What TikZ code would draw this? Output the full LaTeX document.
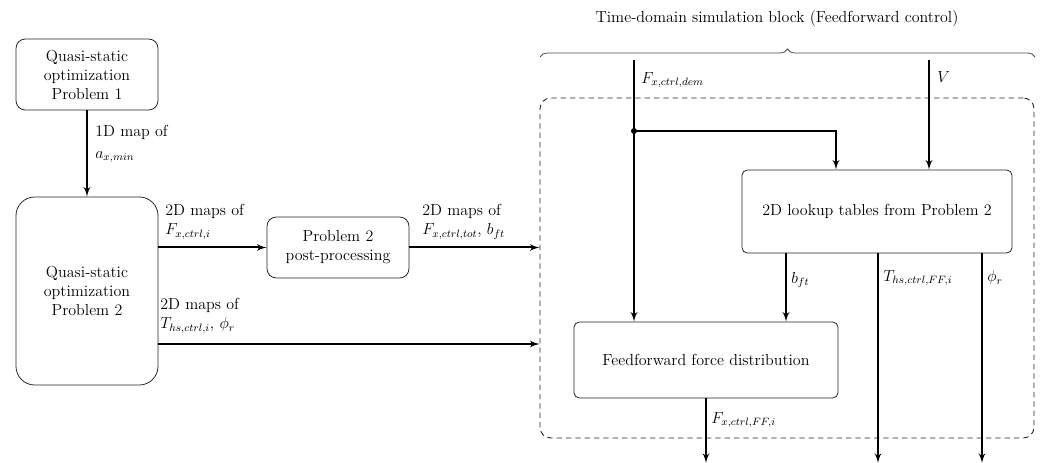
\documentclass[tikz,border=0pt]{standalone}
\usepackage{amsmath}
\usepackage{tikz}
\usetikzlibrary{arrows,decorations.pathreplacing}

\begin{document}
\begin{tikzpicture}[x=0.75pt,y=-0.75pt,font=\fontsize{12}{14.25}\selectfont]
      \tikzset { block/.style = { shape=rectangle,draw=black!85,line width=0.6pt,rounded corners=7pt,align=center,inner sep=2pt } }
      \tikzset { edge/.style = { ->,> = latex',line width=1.5pt } }
      \tikzset { lbl/.style = { anchor=west,align=left,inner sep=0pt } }

      \useasboundingbox (0,0) rectangle (1040,463);

      % boxes
      \node[block,minimum width=106.5pt,minimum height=53.25pt] (prob1) at (87,74.5) {Quasi-static\\optimization\\Problem 1};
      \node[block,minimum width=106.5pt,minimum height=141pt,rounded corners=14pt] (prob2) at (87,291) {Quasi-static\\optimization\\Problem 2};
      \node[block,minimum width=106.5pt,minimum height=45.75pt] (post) at (338,247.5) {Problem 2\\post-processing};
      \node[block,minimum width=202.5pt,minimum height=62.25pt,rounded corners=4pt] (lookup) at (877,211.5) {2D lookup tables from Problem 2};
      \node[block,minimum width=198pt,minimum height=57pt,rounded corners=4pt] (ffdist) at (706,360) {Feedforward force distribution};
      \node[draw=black!85,dash pattern=on 4pt off 3pt,line width=0.7pt,rounded corners=8pt,minimum width=370.5pt,minimum height=255pt] (simblock) at (787,268) {};

      % brace and title
      \coordinate (brL) at (540,57);
      \coordinate (brR) at (1035,57);
      \draw[black!70,line width=0.6pt,decorate,decoration={brace,amplitude=6pt}] (brL) -- (brR);
      \node (title) at (777,19) {Time-domain simulation block (Feedforward control)};

      % inputs and outputs
      \coordinate (fdem) at (634,60);
      \coordinate (vin) at (929,60);
      \coordinate (split) at (634,131);
      \coordinate (p2out) at (158,344);
      \coordinate (ffout) at (706,463);
      \coordinate (thsout) at (878,463);
      \coordinate (phiout) at (982,463);

      \draw[edge] (prob1) to (prob2);
      \draw[edge] (post.west -| prob2.east) to (post.west);
      \draw[edge] (post.east) to (post.east -| simblock.west);
      \draw[edge] (p2out) to (p2out -| simblock.west);
      \draw[edge] (fdem) to (fdem |- ffdist.north);
      \draw[edge] (split) -| (836,131) to (lookup.north -| 836,0);
      \fill (split) circle (3);
      \draw[edge] (vin) to (vin |- lookup.north);
      \draw[edge] (lookup.south -| 786,0) to (ffdist.north -| 786,0);
      \draw[edge] (lookup.south -| thsout) to (thsout);
      \draw[edge] (lookup.south -| phiout) to (phiout);
      \draw[edge] (ffdist.south) to (ffout);

      % labels
      \node[lbl] (l1) at (95,144) {1D map of\\[2pt]$a_{x,min}$};
      \node[lbl] (l2) at (165,222) {2D maps of\\$F_{x,ctrl,i}$};
      \node[lbl] (l3) at (422,222) {2D maps of\\$F_{x,ctrl,tot}$, $b_{ft}$};
      \node[lbl] (l4) at (160,316) {2D maps of\\$T_{hs,ctrl,i}$, $\phi_r$};
      \node[lbl] (l5) at (641,80) {$F_{x,ctrl,dem}$};
      \node[lbl] (l6) at (937,77) {$V$};
      \node[lbl] (l7) at (791,280) {$b_{ft}$};
      \node[lbl] (l8) at (883,278) {$T_{hs,ctrl,FF,i}$};
      \node[lbl] (l9) at (987,278) {$\phi_r$};
      \node[lbl] (l10) at (711,420) {$F_{x,ctrl,FF,i}$};

    \end{tikzpicture}
\end{document}
